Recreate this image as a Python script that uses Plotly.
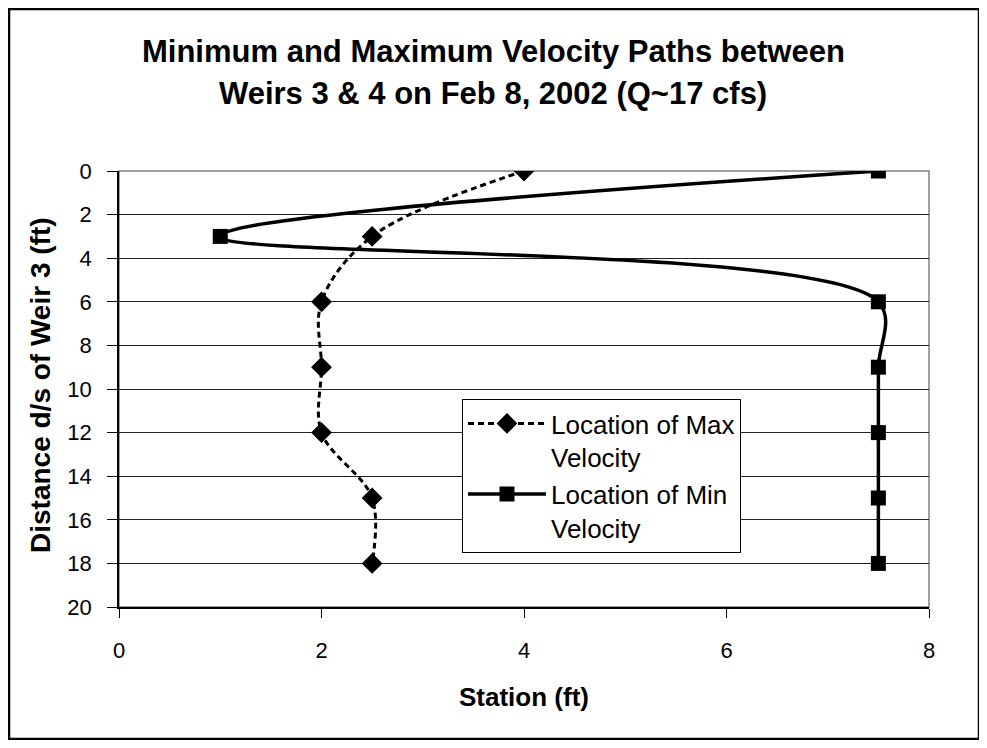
import plotly.graph_objects as go

# Data
distance_ft = [0, 3, 6, 9, 12, 15, 18]
max_vel_station = [4, 2.5, 2, 2, 2, 2.5, 2.5]
min_vel_station = [7.5, 1, 7.5, 7.5, 7.5, 7.5, 7.5]
x_ticks = [0, 2, 4, 6, 8]
y_ticks = [0, 2, 4, 6, 8, 10, 12, 14, 16, 18, 20]

FONT = "Liberation Sans, Arial, sans-serif"

fig = go.Figure()
fig.add_trace(go.Scatter(
    x=max_vel_station, y=distance_ft, mode="lines+markers",
    name="Location of Max<br>Velocity",
    line=dict(color="black", width=3, dash="6px,4px", shape="spline", smoothing=1),
    marker=dict(symbol="diamond", size=16, color="black"),
))
fig.add_trace(go.Scatter(
    x=min_vel_station, y=distance_ft, mode="lines+markers",
    name="Location of Min<br>Velocity",
    line=dict(color="black", width=3.5, shape="spline", smoothing=1),
    marker=dict(symbol="square", size=15, color="black"),
))

OFF = 8  # page body margin
W, H = 971, 732
L, T = 119 - OFF, 171 - OFF
R = W - (929 - OFF)
B = H - (607 - OFF)
pw, ph = W - L - R, H - T - B


def px(page_x):
    return (page_x - OFF - L) / pw


def py(page_y):
    return (H - B - (page_y - OFF)) / ph


shapes = [
    dict(type="rect", xref="paper", yref="paper", x0=0, x1=1, y0=0, y1=1,
         line=dict(color="#808080", width=1.5), layer="below"),
    dict(type="rect", xref="paper", yref="paper",
         x0=px(9), x1=px(979), y0=py(739), y1=py(9),
         line=dict(color="black", width=2.5), layer="below"),
]

annotations = [
    dict(text="<b>Minimum and Maximum Velocity Paths between</b>", xref="paper", yref="paper",
         x=px(493), y=py(51), showarrow=False, xanchor="center", yanchor="middle",
         font=dict(family=FONT, size=31, color="black")),
    dict(text="<b>Weirs 3 &amp; 4 on Feb 8, 2002 (Q~17 cfs)</b>", xref="paper", yref="paper",
         x=px(493), y=py(93), showarrow=False, xanchor="center", yanchor="middle",
         font=dict(family=FONT, size=31, color="black")),
    dict(text="<b>Station (ft)</b>", xref="paper", yref="paper",
         x=px(524), y=py(697), showarrow=False, xanchor="center", yanchor="middle",
         font=dict(family=FONT, size=26, color="black")),
    dict(text="<b>Distance d/s of Weir 3 (ft)</b>", xref="paper", yref="paper",
         x=px(40), y=py(385), showarrow=False, xanchor="center", yanchor="middle",
         textangle=-90, font=dict(family=FONT, size=28, color="black")),
]

fig.update_layout(
    width=W, height=H,
    margin=dict(l=L, r=R, t=T, b=B),
    paper_bgcolor="white", plot_bgcolor="white",
    font=dict(family=FONT, color="black"),
    shapes=shapes, annotations=annotations,
    showlegend=True,
    legend=dict(
        x=px(462), y=py(399), xanchor="left", yanchor="top",
        bordercolor="black", borderwidth=1, bgcolor="white",
        font=dict(family=FONT, size=26, color="black"),
        valign="top", tracegroupgap=2, itemwidth=78,
    ),
    xaxis=dict(
        range=[0, 8], tickvals=x_ticks, ticks="outside", ticklen=9, tickcolor="black",
        showline=True, linecolor="black", linewidth=1.5, showgrid=False, zeroline=False,
        tickfont=dict(family=FONT, size=22, color="black"), ticklabelstandoff=14,
    ),
    yaxis=dict(
        range=[20, 0], tickvals=y_ticks, ticks="outside", ticklen=10, tickcolor="black",
        showline=True, linecolor="black", linewidth=1.5, showgrid=True,
        gridcolor="#222222", gridwidth=1, zeroline=False,
        tickfont=dict(family=FONT, size=22, color="black"), ticklabelstandoff=11,
    ),
)

fig.write_html("out.html")
